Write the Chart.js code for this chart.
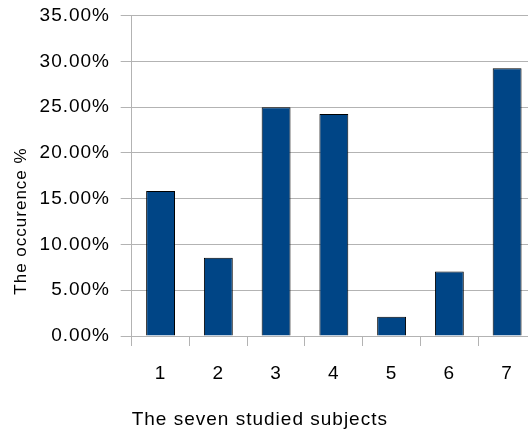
<!DOCTYPE html>
<html>
<head>
<meta charset="utf-8">
<script src="https://cdn.jsdelivr.net/npm/chart.js@4/dist/chart.umd.min.js"></script>
<style>
  html, body { margin: 0; padding: 0; overflow: hidden; background: #ffffff; }
  #wrap { width: 536px; height: 430px; }
</style>
</head>
<body>
<div id="wrap"><canvas id="c" width="536" height="430"></canvas></div>
<script>
const categories = ["1", "2", "3", "4", "5", "6", "7"];
const occurrence = [15.85, 8.55, 25.0, 24.25, 2.1, 7.05, 29.25];
const yTickMin = 0;
const yTickMax = 35;
const yTickStep = 5;
const xTitle = "The seven studied subjects";
const yTitle = "The occurence %";

const spacing = {
  id: 'spacing',
  beforeLayout(chart) { chart.ctx.letterSpacing = '1px'; },
  beforeDraw(chart) { chart.ctx.letterSpacing = '1px'; }
};

const FONT = "'Liberation Sans', Arial, sans-serif";

new Chart(document.getElementById('c'), {
  type: 'bar',
  data: {
    labels: categories,
    datasets: [{
      data: occurrence,
      backgroundColor: '#004586',
      borderColor: '#000000',
      borderWidth: 1,
      barPercentage: 0.5,
      categoryPercentage: 1.0
    }]
  },
  plugins: [spacing],
  options: {
    responsive: false,
    animation: false,
    layout: { padding: { top: 15.7, bottom: 3.7, left: 0, right: 0 } },
    plugins: {
      legend: { display: false },
      tooltip: { enabled: false },
      title: {
        display: true,
        text: yTitle,
        position: 'left',
        color: '#000000',
        font: { family: FONT, size: 17, weight: 'normal' },
        padding: { top: 11.5, bottom: 0 }
      }
    },
    scales: {
      x: {
        grid: {
          display: true,
          drawOnChartArea: false,
          drawTicks: true,
          tickLength: 10,
          color: '#b3b3b3',
          offset: true
        },
        border: { display: false },
        ticks: {
          color: '#000000',
          font: { family: FONT, size: 19 },
          padding: 16,
          maxRotation: 0
        },
        title: {
          display: true,
          text: xTitle,
          align: 'start',
          color: '#000000',
          font: { family: FONT, size: 19 },
          padding: { top: 0, bottom: -5 }
        },
        afterFit(scale) { scale.height = 90.3; }
      },
      y: {
        min: yTickMin,
        max: yTickMax,
        grid: {
          color: '#b3b3b3',
          tickLength: 11,
          drawTicks: true
        },
        border: { display: true, color: '#b3b3b3' },
        ticks: {
          stepSize: yTickStep,
          color: '#000000',
          font: { family: FONT, size: 19 },
          padding: 10.7,
          callback: (v) => Number(v).toFixed(2) + '%'
        },
        afterFit(scale) {
          scale.width = 131.7 - 31.9;
          scale.paddingTop = 0;
          scale.paddingBottom = 0;
        }
      }
    }
  }
});
</script>
</body>
</html>
